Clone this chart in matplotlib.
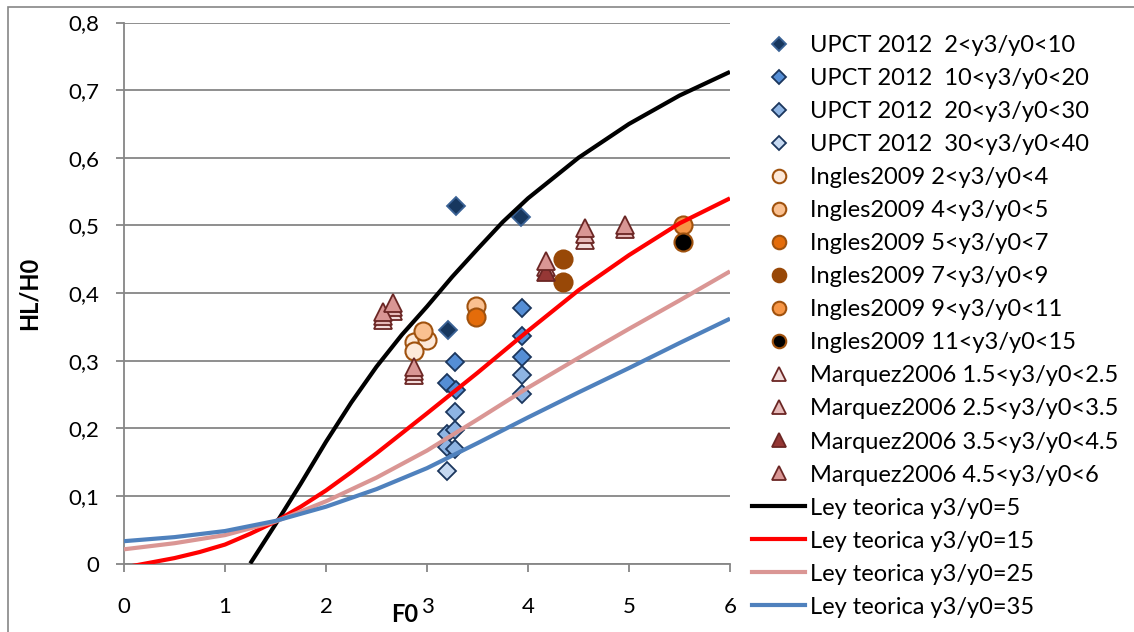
import matplotlib
matplotlib.use("Agg")
import matplotlib.pyplot as plt
from matplotlib.lines import Line2D
from matplotlib.patches import Rectangle

plt.rcParams["font.family"] = ["Lato", "DejaVu Sans"]

# ---- Measured data -------------------------------------------------------
# UPCT 2012 (diamonds)
upct_2_10_x = [3.29, 3.93, 3.21]
upct_2_10_y = [0.528, 0.512, 0.345]
upct_10_20_x = [3.28, 3.20, 3.29, 3.94, 3.94, 3.94]
upct_10_20_y = [0.298, 0.267, 0.257, 0.378, 0.336, 0.306]
upct_20_30_x = [3.28, 3.20, 3.28, 3.20, 3.28, 3.94, 3.94]
upct_20_30_y = [0.224, 0.192, 0.197, 0.173, 0.169, 0.279, 0.251]
upct_30_40_x = [3.20]
upct_30_40_y = [0.137]

# Ingles 2009 (circles)
ing_2_4_x = [2.87, 3.00, 2.87]
ing_2_4_y = [0.328, 0.331, 0.314]
ing_4_5_x = [2.96, 3.49]
ing_4_5_y = [0.344, 0.381]
ing_5_7_x = [3.49]
ing_5_7_y = [0.365]
ing_7_9_x = [4.35, 4.35]
ing_7_9_y = [0.451, 0.416]
ing_9_11_x = [5.53]
ing_9_11_y = [0.500]
ing_11_15_x = [5.53]
ing_11_15_y = [0.475]

# Marquez 2006 (triangles)
mq_15_25_x = [2.56, 2.66, 2.87, 4.56]
mq_15_25_y = [0.360, 0.374, 0.279, 0.478]
mq_25_35_x = [2.56, 2.66, 2.87, 4.18, 4.56, 4.96]
mq_25_35_y = [0.366, 0.380, 0.284, 0.439, 0.487, 0.495]
mq_35_45_x = [4.18]
mq_35_45_y = [0.431]
mq_45_6_x = [2.56, 2.66, 2.87, 4.18, 4.56, 4.96]
mq_45_6_y = [0.372, 0.385, 0.290, 0.447, 0.496, 0.501]

# Theoretical laws
law5_x = [1.25, 1.5, 1.75, 2.0, 2.25, 2.5, 2.75, 3.0, 3.25, 3.5, 3.75, 4.0, 4.5, 5.0, 5.5, 6.0]
law5_y = [0.0, 0.058, 0.118, 0.180, 0.238, 0.291, 0.338, 0.380, 0.424, 0.465, 0.505, 0.540,
          0.600, 0.650, 0.692, 0.727]
law15_x = [0.0, 0.25, 0.5, 0.75, 1.0, 1.25, 1.5, 1.75, 2.0, 2.25, 2.5, 3.0, 3.5, 4.0, 4.5, 5.0, 5.5, 6.0]
law15_y = [-0.006, 0.001, 0.008, 0.017, 0.028, 0.044, 0.062, 0.084, 0.108, 0.135, 0.163, 0.222,
           0.282, 0.344, 0.404, 0.456, 0.503, 0.540]
law_x = [0.0, 0.5, 1.0, 1.5, 2.0, 2.5, 3.0, 3.5, 4.0, 4.5, 5.0, 5.5, 6.0]
law25_y = [0.021, 0.030, 0.042, 0.062, 0.092, 0.127, 0.167, 0.213, 0.260, 0.304, 0.347, 0.389, 0.432]
law35_y = [0.033, 0.039, 0.048, 0.063, 0.084, 0.110, 0.141, 0.178, 0.216, 0.253, 0.289, 0.326, 0.362]

x_ticks = [0, 1, 2, 3, 4, 5, 6]
x_ticklabels = ["0", "1", "2", "3", "4", "5", "6"]
y_ticks = [0, 0.1, 0.2, 0.3, 0.4, 0.5, 0.6, 0.7, 0.8]
y_ticklabels = ["0", "0,1", "0,2", "0,3", "0,4", "0,5", "0,6", "0,7", "0,8"]

# ---- Figure --------------------------------------------------------------
W, H = 1134, 632
fig = plt.figure(figsize=(W / 100, H / 100), dpi=100)
fig.patch.set_facecolor("white")
fig.patches.append(Rectangle((8 / W, -0.1), 1.2, 1 - 7 / H + 0.1, transform=fig.transFigure,
                             fill=False, edgecolor="#868686", linewidth=1.2))

ax_left, ax_right, ax_bottom, ax_top = 124, 730, 563.5, 22.5
ax = fig.add_axes([ax_left / W, 1 - ax_bottom / H, (ax_right - ax_left) / W, (ax_bottom - ax_top) / H])
ax.set_xlim(0, 6)
ax.set_ylim(0, 0.8)

grey = "#868686"
ax.yaxis.grid(True, color=grey, linewidth=1.3)
ax.set_axisbelow(True)
for s in ["top", "right"]:
    ax.spines[s].set_visible(False)
for s in ["left", "bottom"]:
    ax.spines[s].set_color(grey)
    ax.spines[s].set_linewidth(1.3)

ax.set_xticks(x_ticks)
ax.set_xticklabels(x_ticklabels)
ax.set_yticks(y_ticks)
ax.set_yticklabels(y_ticklabels)
ax.tick_params(axis="both", colors=grey, length=6, width=1.3, labelcolor="black", labelsize=16)
ax.tick_params(axis="x", pad=18)
ax.tick_params(axis="y", pad=12)

navy_edge = "#1B365D"
dm = dict(linestyle="none", marker="D", markersize=9, markeredgewidth=1.3, markeredgecolor=navy_edge)
ci = dict(linestyle="none", marker="o", markersize=13, markeredgewidth=1.5, markeredgecolor="#A0520E")
tr = dict(linestyle="none", marker="^", markersize=13, markeredgewidth=1.3, markeredgecolor="#6B2624")

series = [
    (upct_2_10_x, upct_2_10_y, dict(dm, markerfacecolor="#17375E", markeredgecolor="#3A6295"), "UPCT 2012  2<y3/y0<10"),
    (upct_10_20_x, upct_10_20_y, dict(dm, markerfacecolor="#558ED5"), "UPCT 2012  10<y3/y0<20"),
    (upct_20_30_x, upct_20_30_y, dict(dm, markerfacecolor="#8EB4E3"), "UPCT 2012  20<y3/y0<30"),
    (upct_30_40_x, upct_30_40_y, dict(dm, markerfacecolor="#C6D9F1"), "UPCT 2012  30<y3/y0<40"),
    (ing_2_4_x, ing_2_4_y, dict(ci, markerfacecolor="#FDE9D9"), "Ingles2009 2<y3/y0<4"),
    (ing_4_5_x, ing_4_5_y, dict(ci, markerfacecolor="#FAC090"), "Ingles2009 4<y3/y0<5"),
    (ing_5_7_x, ing_5_7_y, dict(ci, markerfacecolor="#E46C0A"), "Ingles2009 5<y3/y0<7"),
    (ing_7_9_x, ing_7_9_y, dict(ci, markerfacecolor="#984807", markeredgecolor="#984807"), "Ingles2009 7<y3/y0<9"),
    (ing_9_11_x, ing_9_11_y, dict(ci, markerfacecolor="#F79646"), "Ingles2009 9<y3/y0<11"),
    (ing_11_15_x, ing_11_15_y, dict(ci, markerfacecolor="#000000"), "Ingles2009 11<y3/y0<15"),
    (mq_15_25_x, mq_15_25_y, dict(tr, markerfacecolor="#F2DCDB"), "Marquez2006 1.5<y3/y0<2.5"),
    (mq_25_35_x, mq_25_35_y, dict(tr, markerfacecolor="#E6B9B8"), "Marquez2006 2.5<y3/y0<3.5"),
    (mq_35_45_x, mq_35_45_y, dict(tr, markerfacecolor="#953735"), "Marquez2006 3.5<y3/y0<4.5"),
    (mq_45_6_x, mq_45_6_y, dict(tr, markerfacecolor="#D99694"), "Marquez2006 4.5<y3/y0<6"),
]

handles = []
for xs, ys, style, label in series:
    ax.plot(xs, ys, zorder=3, **style)
    handles.append(Line2D([], [], label=label, **style))

laws = [
    (law5_x, law5_y, "#000000", "Ley teorica y3/y0=5"),
    (law15_x, law15_y, "#FF0000", "Ley teorica y3/y0=15"),
    (law_x, law25_y, "#DA9694", "Ley teorica y3/y0=25"),
    (law_x, law35_y, "#4F81BD", "Ley teorica y3/y0=35"),
]
for xs, ys, color, label in laws:
    ax.plot(xs, ys, color=color, linewidth=3.0, zorder=4, solid_capstyle="butt",
            solid_joinstyle="round")
    handles.append(Line2D([], [], color=color, linewidth=3.0, label=label))

ax.set_ylabel("HL/H0", fontsize=17, fontweight="bold")
ax.yaxis.set_label_coords((41 - ax_left) / (ax_right - ax_left), 0.5)
ax.set_xlabel("F0", fontsize=17, fontweight="bold")
ax.xaxis.set_label_coords((405 - ax_left) / (ax_right - ax_left), -(614 - ax_bottom) / (ax_bottom - ax_top))
ax.xaxis.label.set_va("center")

fig.legend(handles=handles, loc="upper left", bbox_to_anchor=(752 / W, 1 - 35 / H),
           frameon=False, fontsize=17, markerscale=0.75, handlelength=2.25,
           handletextpad=0.22, labelspacing=0.51, borderaxespad=0, borderpad=0)

fig.savefig("out.png", dpi=100)
